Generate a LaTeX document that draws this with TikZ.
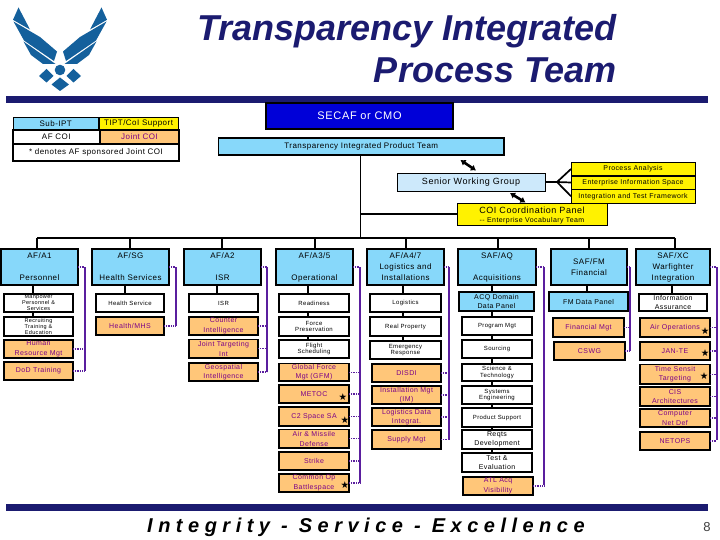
\documentclass[tikz,border=0pt]{standalone}
\usepackage{fontspec}
\setmainfont{Liberation Sans}
\newfontfamily\spcf[LetterSpace=6]{Liberation Sans}
\newfontfamily\spfoot[LetterSpace=27.5]{Liberation Sans}
\newfontfamily\starf{DejaVu Sans}
\usetikzlibrary{arrows.meta}
\definecolor{navy}{HTML}{1B1B70}
\definecolor{awing}{HTML}{14609C}
\definecolor{lblue}{HTML}{87D8FA}
\definecolor{paleb}{HTML}{CDE9FB}
\definecolor{orng}{HTML}{FFC679}
\definecolor{plt}{HTML}{7A0088}
\definecolor{pline}{HTML}{5A1E9E}
\definecolor{secaf}{HTML}{0000D8}
\tikzset{
 x=1pt,y=-1pt,
 bxs/.style={draw=black,line width=1.8pt,inner sep=0pt,outer sep=0pt},
 hdr/.style={bxs,fill=lblue},
 wht/.style={bxs,fill=white},
 org/.style={bxs,fill=orng},
 yel/.style={bxs,fill=yellow,line width=.8pt},
 txt/.style={inner sep=0pt,outer sep=0pt,align=center,font=\spcf\fontsize{8}{9}\selectfont},
 tH/.style={txt,font=\spcf\fontsize{8}{11}\selectfont},
 tS/.style={txt,font=\spcf\fontsize{6}{6.6}\selectfont},
 tM/.style={txt,font=\spcf\fontsize{7}{9.5}\selectfont},
 tO/.style={txt,text=plt,font=\spcf\fontsize{7}{9.5}\selectfont},
 conn/.style={draw=black,line width=1.7pt},
 plin/.style={draw=pline,line width=1.6pt},
 pdot/.style={draw=pline,line width=1.1pt,dash pattern=on 1pt off .8pt},
 star/.style={inner sep=0pt,outer sep=0pt,font=\starf\fontsize{9.5}{10}\selectfont},
 wing/.style={fill=awing,draw=none},
}
% name, x0,y0,x1,y1, box style, text style, text
\newcommand\bx[8]{%
 \node[#6,minimum width={(#4-#2)*1pt},minimum height={(#5-#3)*1pt}] (#1) at ({(#2+#4)/2},{(#3+#5)/2}) {};
 \node[#7] (#1t) at (#1.center) {#8};}
\begin{document}
\begin{tikzpicture}
\useasboundingbox (0,0) rectangle (720,540);
\fill[white] (0,0) rectangle (720,540);
% emblem
\begin{scope}
 \foreach \s/\o in {1/0,-1/120}{
 \begin{scope}[xshift=\o pt,xscale=\s]
  \fill[wing] (18.5,7.5) -- (30,29.5) -- (13,19.8) -- cycle;
  \fill[wing] (13.5,21.5) -- (40,37) -- (57,51.5) -- (54,61) -- (24,40.5) -- cycle;
  \fill[wing] (23.5,41.5) -- (55.5,64) -- (43,64) -- (31,55) -- cycle;
 \end{scope}}
 \fill[wing] (60,70) circle (5.3);
 \fill[wing] (39,76) -- (46.5,69) -- (53.5,76) -- (46.5,82.5) -- cycle;
 \fill[wing] (81,76) -- (73.5,69) -- (66.5,76) -- (73.5,82.5) -- cycle;
 \fill[wing] (60,77.5) -- (69,84.5) -- (60,91) -- (51.5,84.5) -- cycle;
\end{scope}
% title and rules
\node[inner sep=0pt,anchor=base east,text=navy,font=\fontsize{36}{42}\bfseries\itshape\selectfont] (title1) at (617,41) {Transparency Integrated};
\node[inner sep=0pt,anchor=base east,text=navy,font=\fontsize{36}{42}\bfseries\itshape\selectfont] (title2) at (617,83) {Process Team};
\fill[navy] (6,96) rectangle (708,103);
\fill[navy] (6,504) rectangle (708,511);
% legend
\bx{lga}{13}{117}{98.5}{129.5}{bxs,fill=lblue,line width=.8pt}{txt}{Sub-IPT}
\bx{lgb}{99}{117}{178}{129.5}{bxs,fill=yellow,line width=.8pt}{txt}{TIPT/CoI Support}
\bx{lgc}{13}{130}{99.5}{144}{wht}{txt}{AF COI}
\bx{lgd}{100}{130}{179}{144}{org}{txt,text=plt}{Joint COI}
\bx{lge}{13}{144.5}{179}{161}{wht}{txt}{* denotes AF sponsored Joint COI}
% top
\bx{secaf}{266}{103}{453}{129}{bxs,fill=secaf}{txt,text=white,font=\spcf\fontsize{11}{13}\selectfont}{SECAF or CMO}
\bx{tipt}{218.5}{138}{504}{155}{bxs,fill=lblue}{txt}{Transparency Integrated Product Team}
\bx{swg}{397}{173}{545}{191}{bxs,fill=paleb,line width=.6pt}{txt,font=\spcf\fontsize{9}{10}\selectfont}{Senior Working Group}
\bx{ya}{571}{162.5}{695}{175.5}{yel}{txt,font=\spcf\fontsize{7}{8}\selectfont}{Process Analysis}
\bx{yb}{571}{176}{695}{189}{yel}{txt,font=\spcf\fontsize{7}{8}\selectfont}{Enterprise Information Space}
\bx{yc}{571}{189.5}{695}{203}{yel}{txt,font=\spcf\fontsize{7}{8}\selectfont}{Integration and Test Framework}
\bx{coi}{457}{203}{607}{225}{yel}{txt,yshift=-1.5pt,font=\spcf\fontsize{9}{10.5}\selectfont}{COI Coordination Panel\\[-1pt]{\fontsize{7}{8}\selectfont -- Enterprise Vocabulary Team}}
% headers
\bx{h1}{1}{249}{78}{285}{hdr}{tH}{AF/A1\\[11pt]Personnel}
\bx{h2}{92}{249}{169}{285}{hdr}{tH}{AF/SG\\[11pt]Health Services}
\bx{h3}{184}{249}{261}{285}{hdr}{tH}{AF/A2\\[11pt]ISR}
\bx{h4}{276}{249}{353}{285}{hdr}{tH}{AF/A3/5\\[11pt]Operational}
\bx{h5}{367}{249}{444}{285}{hdr}{tH}{AF/A4/7\\Logistics and\\Installations}
\bx{h6}{458}{249}{536}{285}{hdr}{tH}{SAF/AQ\\[11pt]Acquisitions}
\bx{h7}{551}{249}{627}{285}{hdr}{tH}{SAF/FM\\Financial}
\bx{h8}{636}{249}{710}{285}{hdr}{tH}{SAF/XC\\Warfighter\\Integration}
% column 1
\bx{a1}{4}{294}{73}{312}{wht}{txt,font=\spcf\fontsize{5.5}{6}\selectfont}{Manpower\\Personnel \&\\Services}
\bx{a2}{4}{317}{73}{336}{wht}{txt,font=\spcf\fontsize{5.5}{6}\selectfont}{Recruiting\\Training \&\\Education}
\bx{a3}{4}{340}{73}{358}{org}{tO}{Human\\Resource Mgt}
\bx{a4}{4}{362}{73}{380}{org}{tO}{DoD Training}
% column 2
\bx{b1}{96}{294}{164}{312}{wht}{tS}{Health Service}
\bx{b2}{96}{317}{164}{335}{org}{tO}{Health/MHS}
% column 3
\bx{c1}{189}{294}{258}{312}{wht}{tS}{ISR}
\bx{c2}{189}{317}{258}{335}{org}{tO}{Counter\\Intelligence}
\bx{c3}{189}{339.5}{258}{358}{org}{tO}{Joint Targeting\\Int}
\bx{c4}{189}{363}{258}{381}{org}{tO}{Geospatial\\Intelligence}
% column 4
\bx{d1}{279}{294}{349}{312}{wht}{tS}{Readiness}
\bx{d2}{279}{317}{349}{336}{wht}{tS}{Force\\Preservation}
\bx{d3}{279}{340}{349}{358}{wht}{tS}{Flight\\Scheduling}
\bx{d4}{279}{363.5}{349}{381}{org}{tO}{Global Force\\Mgt (GFM)}
\bx{d5}{279}{385}{349}{403}{org}{tO}{METOC}
\bx{d6}{279}{407}{349}{426}{org}{tO}{C2 Space SA}
\bx{d7}{279}{429.5}{349}{448}{org}{tO}{Air \& Missile\\Defense}
\bx{d8}{279}{452}{349}{470}{org}{tO}{Strike}
\bx{d9}{279}{474}{349}{492}{org}{tO}{Common Op\\Battlespace}
% column 5
\bx{e1}{370}{294}{441}{312}{wht}{tS}{Logistics}
\bx{e2}{370}{317}{441}{336}{wht}{tS}{Real Property}
\bx{e3}{370}{341}{441}{359}{wht}{tS}{Emergency\\Response}
\bx{e4}{372}{364}{441}{382}{org}{tO}{DISDI}
\bx{e5}{372}{386}{441}{404}{org}{tO}{Installation Mgt\\(IM)}
\bx{e6}{372}{408}{441}{426}{org}{tO}{Logistics Data\\Integrat.}
\bx{e7}{372}{430}{441}{449}{org}{tO}{Supply Mgt}
% column 6
\bx{f1}{459}{292}{534}{311}{hdr}{tM}{ACQ Domain\\Data Panel}
\bx{f2}{462}{317}{532}{335}{wht}{tS}{Program Mgt}
\bx{f3}{462}{340}{532}{358}{wht}{tS}{Sourcing}
\bx{f4}{462}{364}{532}{381}{wht}{tS}{Science \&\\Technology}
\bx{f5}{462}{386}{532}{404}{wht}{tS}{Systems\\Engineering}
\bx{f6}{462}{408}{532}{427}{wht}{tS}{Product Support}
\bx{f7}{462}{430}{532}{449}{wht}{tM}{Reqts\\Development}
\bx{f8}{462}{453}{532}{472}{wht}{tM}{Test \&\\Evaluation}
\bx{f9}{463}{477}{533}{495}{org}{tO}{ATL Acq\\Visibility}
% column 7
\bx{g1}{549}{292}{628}{311}{hdr}{tM}{FM Data Panel}
\bx{g2}{553}{318}{624}{337}{org}{tO}{Financial Mgt}
\bx{g3}{554}{342}{625}{360}{org}{tO}{CSWG}
% column 8
\bx{i1}{639}{294}{707}{311}{wht}{tM}{Information\\Assurance}
\bx{i2}{640}{318}{710}{337}{org}{tO}{Air Operations}
\bx{i3}{640}{342}{710}{360}{org}{tO}{JAN-TE}
\bx{i4}{640}{364.5}{710}{384}{org}{tO}{Time Sensit\\Targeting}
\bx{i5}{640}{387}{710}{406}{org}{tO}{CIS\\Architectures}
\bx{i6}{640}{409}{710}{427}{org}{tO}{Computer\\Net Def}
\bx{i7}{640}{432}{710}{450}{org}{tO}{NETOPS}
% stars
\node[star] (s1) at (343,397) {★};
\node[star] (s2) at (345,420) {★};
\node[star] (s3) at (345,485) {★};
\node[star] (s4) at (705,331) {★};
\node[star] (s5) at (705,353) {★};
\node[star] (s6) at (704,376) {★};
% footer
\node[inner sep=0pt,anchor=base west,font=\spfoot\fontsize{20}{22}\bfseries\itshape\selectfont] (foot) at (147,532) {Integrity - Service - Excellence};
\node[inner sep=0pt,anchor=base,font=\fontsize{13}{15}\selectfont,text=black!75] (pgno) at (707,531) {8};
% connectors: trunk and bus
\coordinate (trunk) at (360,238);
\coordinate (busL) at (37,238);
\coordinate (busR) at (675,238);
\draw[conn,line width=.9pt] (tipt.south -| trunk) -- (trunk);
\draw[conn] (busL) -- (busR);
\draw[conn] (coi.west) -- (coi.west -| trunk);
\foreach \n/\x in {h1/37,h2/130,h3/222,h4/315,h5/406,h6/498,h7/589,h8/675}
  \draw[conn] (\x,238) -- (\n.north -| {(\x,0)});
% swg fork
\coordinate (fork) at (557,182);
\draw[conn] (swg.east) -- (fork);
\draw[conn] (fork) -- (ya.west);
\draw[conn] (fork) -- (yb.west);
\draw[conn] (fork) -- (yc.west);
% double arrows
\coordinate (ar1a) at (460.5,160);
\coordinate (ar1b) at (476,170.5);
\coordinate (ar2a) at (510,193);
\coordinate (ar2b) at (525.5,202.5);
\draw[line width=2.6pt,{Latex[length=5pt,width=7pt]}-{Latex[length=5pt,width=7pt]}] (ar1a) -- (ar1b);
\draw[line width=2.6pt,{Latex[length=5pt,width=7pt]}-{Latex[length=5pt,width=7pt]}] (ar2a) -- (ar2b);
% column spines
\coordinate (sp1) at (33,0);
\coordinate (sp2) at (125,0);
\coordinate (sp3) at (217,0);
\coordinate (sp4) at (308,0);
\coordinate (sp5) at (403,0);
\coordinate (sp6) at (492,0);
\coordinate (sp7) at (587,0);
\coordinate (sp8) at (672,0);
\foreach \sp/\p/\q in {sp1/h1/a1,sp1/a1/a2,sp2/h2/b1,sp3/h3/c1,sp4/h4/d1,sp4/d1/d2,sp4/d2/d3,sp5/h5/e1,sp5/e1/e2,sp5/e2/e3,
  sp6/h6/f1,sp6/f1/f2,sp6/f2/f3,sp6/f3/f4,sp6/f4/f5,sp6/f5/f6,sp6/f6/f7,sp6/f7/f8,sp7/h7/g1,sp8/h8/i1}
  \draw[conn,line width=2.4pt] (\sp |- \p.south) -- (\sp |- \q.north);
% purple buses
\foreach \n/\x/\yb in {1/85/371,2/176/326,3/267/372,4/360/483,5/449/440,6/544/485,7/630/351,8/717/440}{
  \coordinate (pt\n) at (\x,267);
  \coordinate (pb\n) at (\x,\yb);
  \draw[plin] (pt\n) -- (pb\n);
  \draw[pdot] (h\n.east) -- (pt\n);
}
\foreach \p/\n in {a3/1,a4/1,b2/2,c2/3,c3/3,c4/3,d4/4,d5/4,d6/4,d7/4,d8/4,d9/4,e4/5,e5/5,e6/5,e7/5,f9/6,g2/7,g3/7,i2/8,i3/8,i4/8,i5/8,i6/8,i7/8}
  \draw[pdot] (\p.east) -- (\p.east -| pt\n);
\end{tikzpicture}
\end{document}
